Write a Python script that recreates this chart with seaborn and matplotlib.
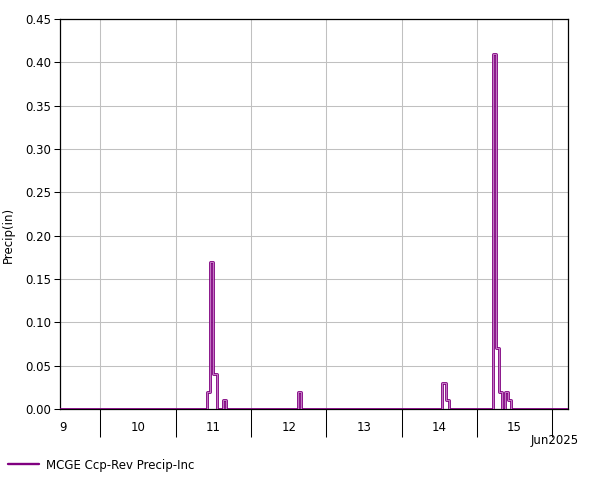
import pandas as pd
import matplotlib
matplotlib.use('Agg')
import matplotlib.pyplot as plt
import matplotlib.dates as mdates
import seaborn as sns

# hourly precip increments, zero except for the listed hours
start = '2025-06-09 11:00'
end = '2025-06-16 05:00'
event_times = ['2025-06-11 10:00', '2025-06-11 11:00', '2025-06-11 12:00', '2025-06-11 15:00',
               '2025-06-12 15:00',
               '2025-06-14 13:00', '2025-06-14 14:00',
               '2025-06-15 05:00', '2025-06-15 06:00', '2025-06-15 07:00',
               '2025-06-15 09:00', '2025-06-15 10:00']
event_values = [0.02, 0.17, 0.04, 0.01,
                0.02,
                0.03, 0.01,
                0.41, 0.07, 0.02,
                0.02, 0.01]
y_ticks = [0.00, 0.05, 0.10, 0.15, 0.20, 0.25, 0.30, 0.35, 0.40, 0.45]
series_name = 'MCGE Ccp-Rev Precip-Inc'

times = pd.date_range(start, end, freq='h')
precip = pd.Series(0.0, index=times)
precip.loc[pd.to_datetime(event_times)] = event_values
df = pd.DataFrame({'time': times, 'precip': precip.values})

sns.set_style('white')
plt.rcParams['font.family'] = ['DejaVu Sans']
plt.rcParams['font.size'] = 8.5
plt.rcParams['text.color'] = 'black'
plt.rcParams['xtick.color'] = 'black'
plt.rcParams['ytick.color'] = 'black'

fig = plt.figure(figsize=(6.01, 4.8), dpi=100)
ax = fig.add_axes([0.0992, 0.148, 0.8458, 0.8125])

sns.lineplot(data=df, x='time', y='precip', drawstyle='steps-post', color='#800080',
             lw=2, ax=ax, legend=False, zorder=3)
sns.lineplot(data=df, x='time', y='precip', drawstyle='steps-post', color='#cf8fcf',
             lw=0.6, ax=ax, legend=False, zorder=4)

ax.set_xlim(pd.Timestamp(start), pd.Timestamp(end))
ax.set_ylim(0, 0.45)
ax.set_yticks(y_ticks)
ax.set_yticklabels([f'{v:.2f}' for v in y_ticks])

# day boundaries get long ticks + grid, day names sit at noon
ax.xaxis.set_major_locator(mdates.DayLocator())
ax.xaxis.set_major_formatter(matplotlib.ticker.NullFormatter())
ax.xaxis.set_minor_locator(mdates.HourLocator(byhour=12))
ax.xaxis.set_minor_formatter(matplotlib.ticker.FuncFormatter(
    lambda x, pos: str(mdates.num2date(x).day)))
ax.tick_params(axis='x', which='major', bottom=True, length=20, width=0.75, color='black',
               direction='out')
ax.tick_params(axis='x', which='minor', bottom=True, length=0, pad=9, labelsize=8.5,
               labelcolor='black')
ax.tick_params(axis='y', left=True, length=4, width=0.75, color='black', pad=2, labelsize=8.5,
               labelcolor='black')

ax.grid(True, which='major', color='#c0c0c0', lw=0.75)
ax.set_axisbelow(True)
for s in ax.spines.values():
    s.set_color('black')
    s.set_linewidth(0.9)
ax.set_xlabel('')
ax.set_ylabel('')

fig.text(0.963, 0.083, 'Jun2025', ha='right', va='center', fontsize=8.5)
fig.text(8 / 601, 0.51, 'Precip(in)', rotation=90, ha='center', va='center', fontsize=8.5)

handle = matplotlib.lines.Line2D([], [], color='#800080', lw=1.7)
fig.legend([handle], [series_name], loc='center left', bbox_to_anchor=(8 / 601, 1 - 465 / 480),
           frameon=False, handlelength=2.6, handletextpad=0.6, borderaxespad=0, borderpad=0,
           fontsize=8.5, labelcolor='black')

fig.savefig('out.png', dpi=100)
